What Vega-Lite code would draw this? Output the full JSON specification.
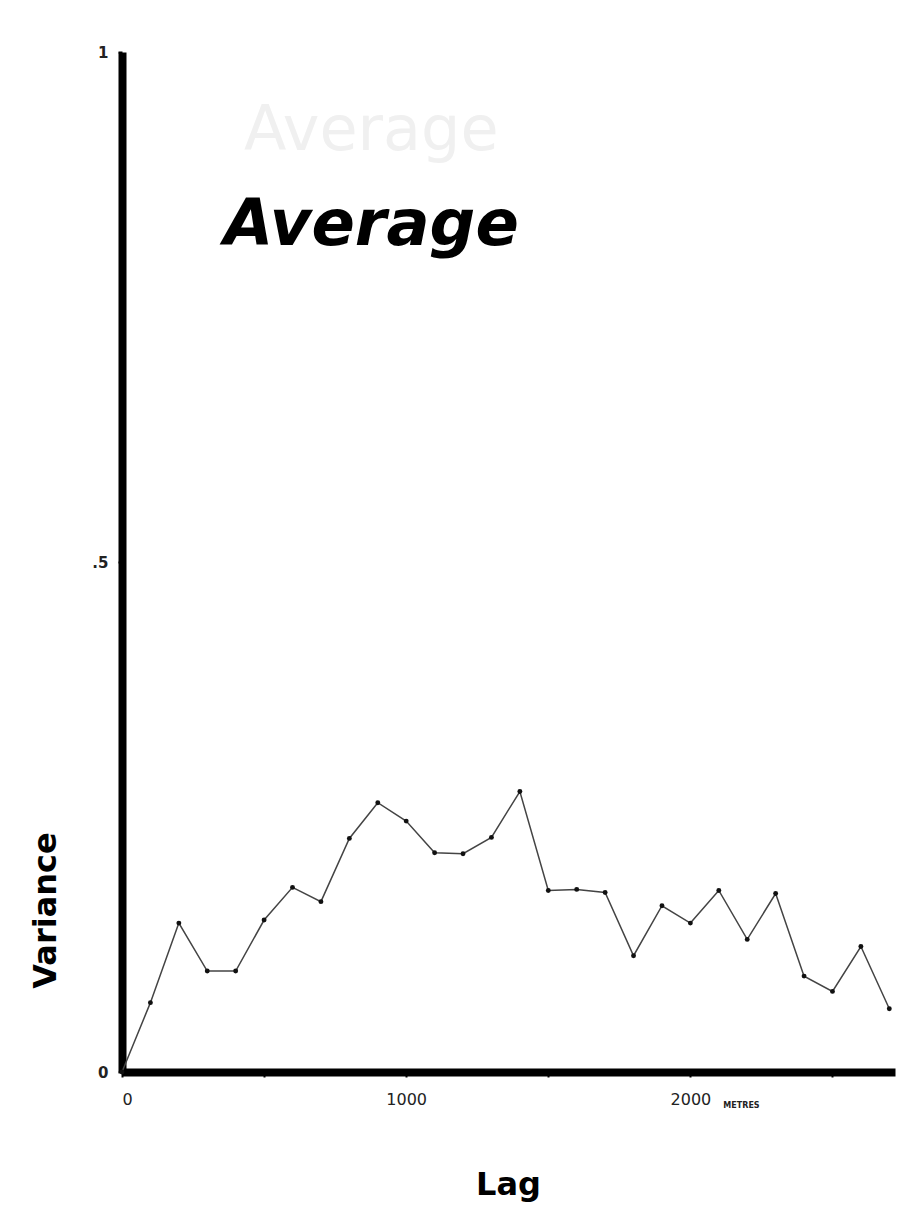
{
  "$schema": "https://vega.github.io/schema/vega-lite/v6.json",
  "autosize": {"type": "none"},
  "padding": {"left": 122, "top": 52, "right": 19, "bottom": 158},
  "width": 773,
  "height": 1020,
  "background": "white",
  "config": {"view": {"stroke": null}, "font": "DejaVu Sans"},
  "datasets": {
    "series": [
      {"lag": 0, "variance": 0.0},
      {"lag": 100, "variance": 0.068},
      {"lag": 200, "variance": 0.146},
      {"lag": 300, "variance": 0.099},
      {"lag": 400, "variance": 0.099},
      {"lag": 500, "variance": 0.149},
      {"lag": 600, "variance": 0.181},
      {"lag": 700, "variance": 0.167},
      {"lag": 800, "variance": 0.229},
      {"lag": 900, "variance": 0.264},
      {"lag": 1000, "variance": 0.246},
      {"lag": 1100, "variance": 0.215},
      {"lag": 1200, "variance": 0.214},
      {"lag": 1300, "variance": 0.23},
      {"lag": 1400, "variance": 0.275},
      {"lag": 1500, "variance": 0.178},
      {"lag": 1600, "variance": 0.179},
      {"lag": 1700, "variance": 0.176},
      {"lag": 1800, "variance": 0.114},
      {"lag": 1900, "variance": 0.163},
      {"lag": 2000, "variance": 0.146},
      {"lag": 2100, "variance": 0.178},
      {"lag": 2200, "variance": 0.13},
      {"lag": 2300, "variance": 0.175},
      {"lag": 2400, "variance": 0.094},
      {"lag": 2500, "variance": 0.079},
      {"lag": 2600, "variance": 0.123},
      {"lag": 2700, "variance": 0.062}
    ],
    "ghost": [
      {"lag": 877, "variance": 0.904, "text": "Average"}
    ],
    "title": [
      {"lag": 877, "variance": 0.811, "text": "Average"}
    ],
    "units": [
      {"lag": 2116, "variance": -0.033, "text": "METRES"}
    ]
  },
  "layer": [
    {
      "data": {"name": "series"},
      "mark": {"type": "line", "color": "#444444", "strokeWidth": 1.5, "point": {"filled": true, "color": "#111111", "size": 24}},
      "encoding": {
        "x": {
          "field": "lag", "type": "quantitative",
          "scale": {"domain": [0, 2720], "nice": false, "zero": true},
          "axis": {
            "values": [0, 500, 1000, 1500, 2000, 2500],
            "labelExpr": "datum.value % 1000 == 0 ? datum.label : ''",
            "format": "d",
            "grid": false,
            "domainColor": "#000000", "domainWidth": 8,
            "tickColor": "#000000", "tickSize": 5, "tickWidth": 2,
            "labelFont": "DejaVu Sans", "labelFontSize": 16, "labelColor": "#222222", "labelPadding": 14,
            "title": "Lag",
            "titleFont": "DejaVu Sans", "titleFontWeight": "bold", "titleFontSize": 32, "titleColor": "#000000",
            "titleX": 386, "titleY": 112, "titleBaseline": "middle", "titleAnchor": null, "titleAlign": "center"
          }
        },
        "y": {
          "field": "variance", "type": "quantitative",
          "scale": {"domain": [0, 1], "nice": false},
          "axis": {
            "values": [0, 0.5, 1],
            "labelExpr": "datum.value == 0 ? '0' : (datum.value == 1 ? '1' : '.5')",
            "grid": false,
            "domainColor": "#000000", "domainWidth": 8,
            "tickColor": "#000000", "tickSize": 4, "tickWidth": 2,
            "labelFont": "DejaVu Sans", "labelFontSize": 15, "labelColor": "#222222", "labelFontWeight": "bold", "labelPadding": 10,
            "title": "Variance",
            "titleFont": "DejaVu Sans", "titleFontWeight": "bold", "titleFontSize": 32, "titleColor": "#000000",
            "titleX": -77, "titleY": 858, "titleAngle": -90, "titleAlign": "center", "titleBaseline": "middle", "titleAnchor": null
          }
        }
      }
    },
    {
      "data": {"name": "ghost"},
      "mark": {"type": "text", "font": "DejaVu Sans", "fontSize": 62, "fontWeight": "normal", "align": "center", "baseline": "alphabetic", "color": "#f0f0f0"},
      "encoding": {
        "x": {"field": "lag", "type": "quantitative"},
        "y": {"field": "variance", "type": "quantitative"},
        "text": {"field": "text"}
      }
    },
    {
      "data": {"name": "title"},
      "mark": {"type": "text", "font": "DejaVu Sans", "fontStyle": "italic", "fontSize": 64, "fontWeight": "bold", "align": "center", "baseline": "alphabetic", "color": "#000000"},
      "encoding": {
        "x": {"field": "lag", "type": "quantitative"},
        "y": {"field": "variance", "type": "quantitative"},
        "text": {"field": "text"}
      }
    },
    {
      "data": {"name": "units"},
      "mark": {"type": "text", "font": "DejaVu Sans", "fontSize": 8, "fontWeight": "bold", "align": "left", "baseline": "middle", "color": "#222222", "clip": false},
      "encoding": {
        "x": {"field": "lag", "type": "quantitative"},
        "y": {"field": "variance", "type": "quantitative"},
        "text": {"field": "text"}
      }
    }
  ]
}
